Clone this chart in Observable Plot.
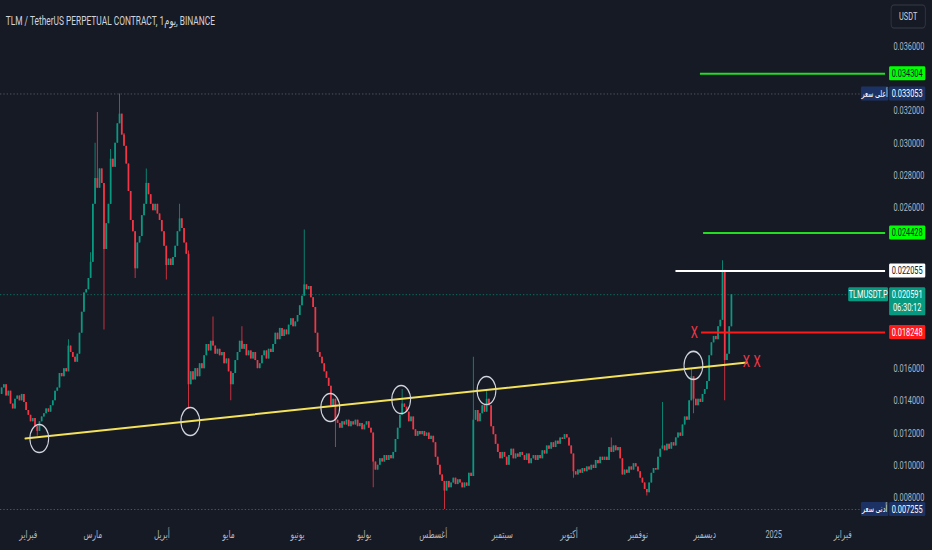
<!DOCTYPE html>
<html><head><meta charset="utf-8">
<script src="https://cdn.jsdelivr.net/npm/d3@7"></script>
<script src="https://cdn.jsdelivr.net/npm/@observablehq/plot@0.6"></script>
<style>
html,body{margin:0;padding:0;background:#161a25;overflow:hidden}
#chart svg{display:block}
</style></head><body><div id="chart"></div>
<script>
// ---------------- data ----------------
const title = "TLM / TetherUS PERPETUAL CONTRACT, 1\u200Eيوم\u200E, BINANCE";
const startDate = "2024-01-20";
const firstOpen = 0.0144;
const closes = [
.0148,.0150,.0143,.0146,.0138,.0135,.0141,.0143,.0140,.0144,
.0139,.0134,.0131,.0127,.0129,.0124,.0121,.0127,.0130,.0132,
.0135,.0133,.0137,.0140,.0146,.0148,.0157,.0155,.0160,.0158,
.0174,.0170,.0167,.0164,.0169,.0182,.0195,.0207,.0209,.0216,
.0226,.0262,.0278,.0272,.0284,.0275,.0234,.0250,.0262,.0290,
.0285,.0300,.0312,.0318,.0305,.0298,.0287,.0270,.0252,.0245,
.0222,.0238,.0242,.0255,.0262,.0275,.0268,.0262,.0258,.0262,
.0256,.0252,.0245,.0236,.0224,.0228,.0224,.0229,.0236,.0245,
.0253,.0247,.0238,.0231,.0150,.0158,.0153,.0160,.0155,.0163,
.0160,.0168,.0175,.0171,.0177,.0174,.0169,.0172,.0168,.0170,
.0163,.0166,.0158,.0150,.0157,.0165,.0170,.0177,.0172,.0175,
.0168,.0171,.0166,.0170,.0165,.0160,.0163,.0168,.0171,.0166,
.0172,.0170,.0175,.0182,.0178,.0185,.0180,.0184,.0181,.0187,
.0191,.0186,.0189,.0193,.0199,.0205,.0212,.0209,.0211,.0204,
.0198,.0182,.0170,.0167,.0163,.0158,.0154,.0149,.0137,.0141,
.0128,.0126,.0123,.0127,.0125,.0128,.0124,.0127,.0125,.0128,
.0124,.0126,.0122,.0125,.0127,.0123,.0120,.0102,.0097,.0100,
.0104,.0102,.0106,.0103,.0106,.0104,.0108,.0116,.0123,.0131,
.0138,.0136,.0133,.0127,.0130,.0122,.0118,.0121,.0119,.0121,
.0118,.0120,.0116,.0118,.0114,.0105,.0100,.0094,.0090,.0084,
.0090,.0086,.0089,.0092,.0088,.0091,.0089,.0086,.0089,.0087,
.0095,.0093,.0128,.0134,.0127,.0132,.0137,.0133,.0141,.0137,
.0124,.0119,.0113,.0108,.0104,.0108,.0105,.0100,.0106,.0110,
.0104,.0107,.0105,.0108,.0106,.0103,.0107,.0101,.0104,.0106,
.0103,.0106,.0104,.0109,.0107,.0112,.0110,.0114,.0111,.0115,
.0113,.0117,.0116,.0119,.0117,.0112,.0107,.0096,.0094,.0097,
.0095,.0098,.0096,.0099,.0097,.0100,.0098,.0103,.0101,.0105,
.0103,.0105,.0103,.0111,.0108,.0112,.0109,.0111,.0104,.0094,
.0097,.0095,.0099,.0097,.0101,.0099,.0096,.0092,.0089,.0085,
.0083,.0089,.0095,.0098,.0097,.0105,.0110,.0112,.0109,.0113,
.0110,.0114,.0112,.0117,.0120,.0118,.0125,.0130,.0128,.0140,
.0155,.0141,.0137,.0141,.0139,.0144,.0147,.0152,.0168,.0176,
.0180,.0178,.0186,.0190,.0221,.0165,.0169,.0186,.020591
];
// [day index, high, low] for candles with visible wicks
const wicks = [
[16,null,.0118],[30,.0178,null],[40,.0232,null],[42,.0300,null],[43,.0319,null],
[46,null,.0184],[49,.0296,null],[53,.033053,null],[55,.0306,null],[60,null,.0216],
[65,.0284,null],[74,null,.0215],[80,.0262,null],[84,.0233,.0135],[95,.0192,null],
[103,null,.0140],[108,.0186,null],[136,.0246,null],[150,null,.0111],[167,null,.0086],
[180,.0147,null],[199,null,.007255],[212,.0167,null],[218,.0147,null],[257,null,.0092],
[274,.0117,null],[290,null,.0081],[297,.0139,null],[310,.0160,null],[311,null,.0132],
[324,.0227,null],[325,null,.0140]
];
const priceTicks = [0.008,0.010,0.012,0.014,0.016,0.018,0.020,0.022,0.024,0.026,0.028,0.030,0.032,0.034,0.036];
const monthTicks = ["2024-02-01","2024-03-01","2024-04-01","2024-05-01","2024-06-01","2024-07-01","2024-08-01","2024-09-01","2024-10-01","2024-11-01","2024-12-01","2025-01-01","2025-02-01"];
const monthLabels = ["فبراير","مارس","أبريل","مايو","يونيو","يوليو","أغسطس","سبتمبر","أكتوبر","نوفمبر","ديسمبر","2025","فبراير"];
const levelValues = [0.034304, 0.024428, 0.022055, 0.018248];
const levelStarts = ["2024-11-29T00:00Z","2024-11-30T10:00Z","2024-11-18T00:00Z","2024-11-29T12:00Z"];
const trendDates = ["2024-01-30T14:00Z","2024-12-20T00:00Z"];
const trendValues = [0.01167, 0.01638];
const touchDates = ["2024-02-05T22:00Z","2024-04-13T19:00Z","2024-06-15T17:00Z","2024-07-17T14:00Z","2024-08-24T22:00Z","2024-11-25T22:00Z"];
const touchValues = [0.01166, 0.01272, 0.01359, 0.01408, 0.01464, 0.01620];
const crossDates = ["2024-11-26T07:00Z","2024-12-19T17:00Z","2024-12-24T14:00Z"];
const crossValues = [0.018248, 0.01645, 0.01645];
const highPrice = 0.033053, lowPrice = 0.007255, lastPrice = 0.020591;
const symbol = "TLMUSDT.P", countdown = "06:30:12", currency = "USDT";
const highLabel = "أعلى سعر", lowLabel = "أدنى سعر";

// ---------------- build ----------------
const FONT = "Roboto, 'DejaVu Sans', sans-serif";
const UP = "#089981", DOWN = "#f23645";
const VIEW_W = 932, W = 1390, H = 550;
const start = new Date(startDate + "T00:00Z");
const wickMap = new Map(wicks.map(w => [w[0], w]));
const candles = closes.map((c, i) => {
  const o = i === 0 ? firstOpen : closes[i - 1];
  const w = wickMap.get(i);
  let hi = Math.max(o, c), lo = Math.min(o, c);
  if (w && w[1] != null) hi = Math.max(hi, w[1]);
  if (w && w[2] != null) lo = Math.min(lo, w[2]);
  return {date: d3.utcDay.offset(start, i), open: o, close: c, high: hi, low: lo};
});
const ups = candles.filter(d => d.close >= d.open);
const downs = candles.filter(d => d.close < d.open);
const xEnd = new Date("2025-02-20T05:00Z");
const levels = levelValues.map((v, i) => ({v, from: new Date(levelStarts[i]), to: xEnd}));
const trend = trendDates.map((d, i) => ({date: new Date(d), v: trendValues[i]}));
const touches = touchDates.map((d, i) => ({date: new Date(d), v: touchValues[i]}));
const crosses = crossDates.map((d, i) => ({date: new Date(d), v: crossValues[i]}));
const months = monthTicks.map((d, i) => ({date: new Date(d + "T00:00Z"), label: monthLabels[i]}));
const levelColors = ["#22dd22", "#22dd22", "#ffffff", "#ff1a1a"];
// tick labels hidden behind the price tags (as on the reference)
const yDomain = [0.006448, 0.038856];
const pxPerUnit = (H - 28) / (yDomain[1] - yDomain[0]);
const tagged = [...levelValues, highPrice, lowPrice, lastPrice];
const visibleTicks = priceTicks.filter(t => tagged.every(v => Math.abs(t - v) * pxPerUnit > 11));

const plot = Plot.plot({
  width: W, height: H,
  marginLeft: 0, marginRight: 70, marginTop: 0, marginBottom: 28,
  style: {background: "#161a25", fontFamily: FONT, fontSize: "11px", color: "#b2b5be", overflow: "visible"},
  x: {type: "utc", domain: [new Date("2024-01-19T10:00Z"), xEnd], axis: null},
  y: {domain: yDomain, axis: null},
  marks: [
    Plot.ruleY([highPrice], {stroke: "#5d606b", strokeDasharray: "2,3", strokeWidth: 1}),
    Plot.ruleY([lowPrice], {stroke: "#5d606b", strokeDasharray: "2,3", strokeWidth: 1}),
    Plot.ruleY([lastPrice], {stroke: UP, strokeDasharray: "2,3", strokeWidth: 1, strokeOpacity: 0.8}),
    Plot.ruleX(ups, {x: "date", y1: "low", y2: "high", stroke: UP, strokeWidth: 1.2}),
    Plot.ruleX(downs, {x: "date", y1: "low", y2: "high", stroke: DOWN, strokeWidth: 1.2}),
    Plot.ruleX(ups, {x: "date", y1: "open", y2: "close", stroke: UP, strokeWidth: 2.6}),
    Plot.ruleX(downs, {x: "date", y1: "open", y2: "close", stroke: DOWN, strokeWidth: 2.6}),
    Plot.ruleY(levels, {y: "v", x1: "from", x2: "to", stroke: (d, i) => levelColors[i], strokeWidth: 2}),
    Plot.line(trend, {x: "date", y: "v", stroke: "#f5e25b", strokeWidth: 2}),
    Plot.dot(touches, {x: "date", y: "v", r: 14, stroke: "#d1d4dc", strokeWidth: 1.6, fill: "none"}),
    Plot.text(crosses, {x: "date", y: "v", text: () => "X", fill: "#f23645", fontSize: 17, fontFamily: FONT}),
    Plot.text(visibleTicks, {y: d => d, text: d => d.toFixed(6), frameAnchor: "right", textAnchor: "start", dx: 12, fill: "#b2b5be", fontSize: 11}),
    Plot.text(months, {x: "date", text: "label", frameAnchor: "bottom", dy: 15, fill: "#b2b5be", fontSize: 11}),
    Plot.text([title], {text: d => d, frameAnchor: "top-left", textAnchor: "start", dx: 8, dy: 16, fill: "#d1d4dc", fontSize: 12.5})
  ]
});

const ySc = plot.scale("y");
const root = d3.select(plot);
const g = root.append("g").attr("font-family", FONT).attr("font-size", 11);
function tag(x, w, yTop, h, fill, lines, color, size) {
  g.append("rect").attr("x", x).attr("y", yTop).attr("width", w).attr("height", h).attr("fill", fill).attr("rx", 1.5);
  lines.forEach((t, i) => g.append("text").attr("x", x + w / 2).attr("y", yTop + 7 + i * 13)
    .attr("dy", "0.35em").attr("text-anchor", "middle").attr("fill", color)
    .attr("font-size", size || 11).text(t));
}
const VX = 1326, VW = 54, BH = 14;
// level tags
tag(VX, VW, ySc.apply(levelValues[0]) - BH / 2, BH, "#00ff00", [levelValues[0].toFixed(6)], "#131722");
tag(VX, VW, ySc.apply(levelValues[1]) - BH / 2, BH, "#00ff00", [levelValues[1].toFixed(6)], "#131722");
tag(VX, VW, ySc.apply(levelValues[2]) - BH / 2, BH, "#ffffff", [levelValues[2].toFixed(6)], "#131722");
tag(VX, VW, ySc.apply(levelValues[3]) - BH / 2, BH, "#ff1a1a", [levelValues[3].toFixed(6)], "#ffffff");
// high / low tags
tag(1284, 41, ySc.apply(highPrice) - BH / 2, BH, "#1c3264", [highLabel], "#ffffff", 9.5);
tag(VX, VW, ySc.apply(highPrice) - BH / 2, BH, "#1c3264", [highPrice.toFixed(6)], "#ffffff");
tag(1284, 41, ySc.apply(lowPrice) - BH / 2, BH, "#1c3264", [lowLabel], "#ffffff", 9.5);
tag(VX, VW, ySc.apply(lowPrice) - BH / 2, BH, "#1c3264", [lowPrice.toFixed(6)], "#ffffff");
// last price
tag(1265, 59.5, ySc.apply(lastPrice) - BH / 2, BH, UP, [symbol], "#ffffff");
tag(VX, VW, ySc.apply(lastPrice) - BH / 2, 28, UP, [lastPrice.toFixed(6), countdown], "#ffffff");
// currency button
g.append("rect").attr("x", 1329).attr("y", 5).attr("width", 51).attr("height", 23).attr("rx", 4)
  .attr("fill", "#161a25").attr("stroke", "#363a45").attr("stroke-width", 1.2);
g.append("text").attr("x", 1354.5).attr("y", 16.5).attr("dy", "0.35em").attr("text-anchor", "middle")
  .attr("fill", "#d1d4dc").attr("font-size", 11).text(currency);

// the reference is horizontally condensed: show the wide drawing in a 932px box
plot.setAttribute("width", VIEW_W);
plot.setAttribute("height", H);
plot.setAttribute("viewBox", `0 0 ${W} ${H}`);
plot.setAttribute("preserveAspectRatio", "none");
plot.style.width = VIEW_W + "px";
plot.style.height = H + "px";
plot.style.maxWidth = "none";
document.getElementById("chart").appendChild(plot);
</script>
</body></html>
